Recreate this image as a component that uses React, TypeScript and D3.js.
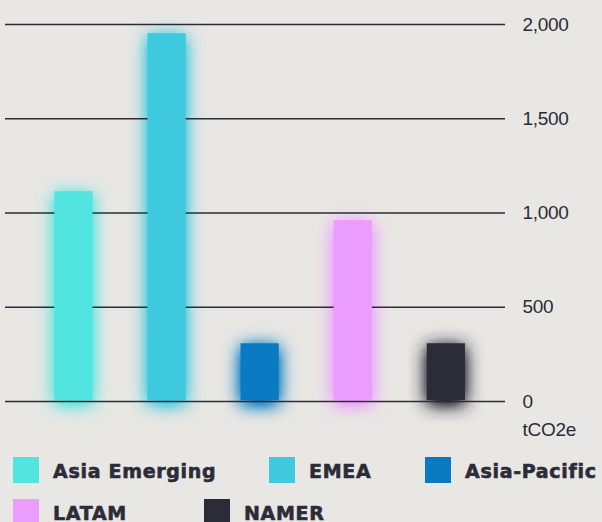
import React from "react";
import * as d3 from "d3";

const categories = ["Asia Emerging", "EMEA", "Asia-Pacific", "LATAM", "NAMER"];
const values = [1116, 1954, 309, 962, 309];
const colors = ["#52E5E0", "#3EC9DE", "#0A7AC2", "#EB9CFF", "#2C2C38"];
const yTicks = [0, 500, 1000, 1500, 2000];
const unitLabel = "tCO2e";

const W = 602;
const H = 522;
const INK = "#2C2C38";
const BG = "#E8E7E3";

const legendLayout = [
  { x: 13, y: 457 },
  { x: 269, y: 457 },
  { x: 425, y: 457 },
  { x: 13, y: 499 },
  { x: 204, y: 499 },
];

export default function App() {
  const y = d3.scaleLinear().domain([0, 2000]).range([401.5, 24.5]);
  const x = d3
    .scaleBand<string>()
    .domain(categories)
    .range([26.9, 492.4])
    .paddingInner(0.59)
    .paddingOuter(0.295);
  const fmt = d3.format(",");

  return (
    <svg
      width={W}
      height={H}
      style={{ position: "fixed", left: 0, top: 0, background: BG, display: "block" }}
    >
      <defs>
        <filter id="glow" x="-100%" y="-100%" width="300%" height="300%">
          <feGaussianBlur in="SourceGraphic" stdDeviation={9} />
          <feOffset dx={0} dy={3} />
          <feComponentTransfer>
            <feFuncA type="linear" slope={1.5} />
          </feComponentTransfer>
        </filter>
      </defs>
      <rect x={0} y={0} width={W} height={H} fill={BG} />
      {/* glows */}
      <g>
        {categories.map((c, i) => (
          <rect
            key={c}
            x={x(c)!}
            y={y(values[i])}
            width={x.bandwidth()}
            height={y(0) - y(values[i])}
            fill={colors[i]}
            filter="url(#glow)"
          />
        ))}
      </g>
      {/* gridlines */}
      <g>
        {yTicks.map((t) => (
          <line key={t} x1={5} x2={505} y1={y(t)} y2={y(t)} stroke={INK} strokeWidth={1.3} />
        ))}
      </g>
      {/* bars */}
      <g>
        {categories.map((c, i) => (
          <rect
            key={c}
            x={x(c)!}
            y={y(values[i])}
            width={x.bandwidth()}
            height={y(0) - y(values[i]) - 1.5}
            fill={colors[i]}
          />
        ))}
      </g>
      {/* y labels */}
      <g fontFamily="Liberation Sans, Arial, sans-serif" fontSize={19} fill={INK}>
        {yTicks.map((t) => (
          <text key={t} x={522.5} y={y(t) + 6} letterSpacing={-0.3}>
            {fmt(t)}
          </text>
        ))}
        <text x={522.5} y={436} letterSpacing={-0.3}>
          {unitLabel}
        </text>
      </g>
      {/* legend */}
      <g
        fontFamily="DejaVu Sans, sans-serif"
        fontWeight="bold"
        fontSize={19}
        fill={INK}
        stroke={INK}
        strokeWidth={0.6}
      >
        {categories.map((c, i) => (
          <g key={c}>
            <rect
              x={legendLayout[i].x}
              y={legendLayout[i].y}
              width={26}
              height={26}
              fill={colors[i]}
              stroke="none"
            />
            <text x={legendLayout[i].x + 40} y={legendLayout[i].y + 20.5} letterSpacing={0.7}>
              {c}
            </text>
          </g>
        ))}
      </g>
    </svg>
  );
}
